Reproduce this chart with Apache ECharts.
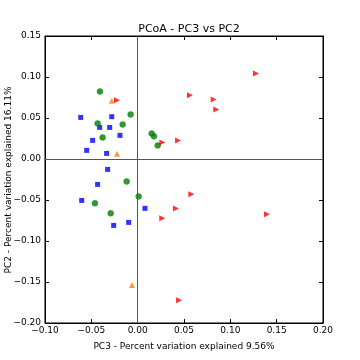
<!DOCTYPE html>
<html><head><meta charset="utf-8">
<script src="https://cdn.jsdelivr.net/npm/echarts@6/dist/echarts.min.js"></script>
<style>html,body{margin:0;padding:0;background:#fff}#c{width:360px;height:360px}</style>
</head><body><div id="c"></div>
<script>
const blueSquares = [[-0.0615,0.0507],[-0.028,0.0516],[-0.041,0.0385],[-0.0302,0.0385],[-0.0191,0.0288],[-0.0486,0.0227],[-0.055,0.0105],[-0.0335,0.0068],[-0.0324,-0.0127],[-0.0432,-0.031],[-0.0604,-0.0505],[0.0079,-0.0602],[-0.0097,-0.0773],[-0.0259,-0.081]];
const greenCircles = [[-0.0407,0.0824],[-0.0076,0.0544],[-0.0432,0.0434],[-0.0162,0.0422],[-0.0378,0.0263],[0.0151,0.0312],[0.0176,0.0276],[0.0216,0.0166],[-0.0119,-0.0273],[0.0011,-0.0456],[-0.0461,-0.0541],[-0.0291,-0.0663]];
const orangeTriangles = [[-0.028,0.0711],[-0.0223,0.0065],[-0.0062,-0.1537]];
const redTriangles = [[-0.0223,0.0715],[0.0266,0.0202],[0.0436,0.0227],[0.1277,0.1044],[0.0564,0.0776],[0.082,0.0727],[0.0848,0.0605],[0.0579,-0.0431],[0.0413,-0.0604],[0.0265,-0.0722],[0.1395,-0.0675],[0.0447,-0.1724]];
const xTicks = [-0.10,-0.05,0.00,0.05,0.10,0.15,0.20];
const yTicks = [-0.20,-0.15,-0.10,-0.05,0.00,0.05,0.10,0.15];
const xTitle = 'PC3 - Percent variation explained 9.56%';
const yTitle = 'PC2 - Percent variation explained 16.11%';
const fmt = v => (Math.round(v*100)/100).toFixed(2).replace('-','\u2212');
const font = 'DejaVu Sans';
const chart = echarts.init(document.getElementById('c'));
const axBase = () => ({
  axisLine:{show:true,onZero:false,lineStyle:{color:'#000',width:1}},
  axisTick:{show:true,inside:true,length:4,lineStyle:{color:'#000'}},
  splitLine:{show:false}
});
chart.setOption({
  animation:false,
  title:{text:'PCoA - PC3 vs PC2',left:184,top:19,textAlign:'center',textStyle:{fontFamily:font,fontSize:11,fontWeight:'normal',color:'#000'}},
  grid:{left:45,right:37,top:36,bottom:37,show:true,borderColor:'#000',borderWidth:1,containLabel:false,outerBoundsMode:'none'},
  graphic:[{type:'text',x:4,y:180,rotation:Math.PI/2,
    style:{text:yTitle,font:'9px "DejaVu Sans"',fill:'#000',textAlign:'center',textVerticalAlign:'top'}}],
  xAxis:[
    Object.assign({type:'value',min:xTicks[0],max:xTicks[xTicks.length-1],interval:0.05,position:'bottom',
      name:xTitle,nameLocation:'middle',nameGap:19,
      nameTextStyle:{fontFamily:font,fontSize:9,color:'#000'},
      axisLabel:{formatter:fmt,fontFamily:font,fontSize:9,color:'#000',margin:3}},axBase()),
    Object.assign({type:'value',min:xTicks[0],max:xTicks[xTicks.length-1],interval:0.05,position:'top',axisLabel:{show:false}},axBase())
  ],
  yAxis:[
    Object.assign({type:'value',min:yTicks[0],max:yTicks[yTicks.length-1],interval:0.05,position:'left',
      axisLabel:{formatter:fmt,fontFamily:font,fontSize:9,color:'#000',margin:4}},axBase()),
    Object.assign({type:'value',min:yTicks[0],max:yTicks[yTicks.length-1],interval:0.05,position:'right',axisLabel:{show:false}},axBase())
  ],
  series:[
    {type:'scatter',data:blueSquares,symbol:'rect',symbolSize:5,itemStyle:{color:'#0000ff'},z:3,
     markLine:{silent:true,symbol:'none',label:{show:false},lineStyle:{color:'#555',width:1,type:'solid'},
       data:[{xAxis:0},{yAxis:0}]}},
    {type:'scatter',data:greenCircles,symbol:'circle',symbolSize:6,itemStyle:{color:'#008000',borderColor:'rgba(0,128,0,0.4)',borderWidth:1},z:3},
    {type:'scatter',data:orangeTriangles,symbol:'triangle',symbolSize:6,itemStyle:{color:'#ff7f0e'},z:3},
    {type:'scatter',data:redTriangles,symbol:'triangle',symbolRotate:-90,symbolSize:6,itemStyle:{color:'#ff0000'},z:3}
  ]
});
</script></body></html>
